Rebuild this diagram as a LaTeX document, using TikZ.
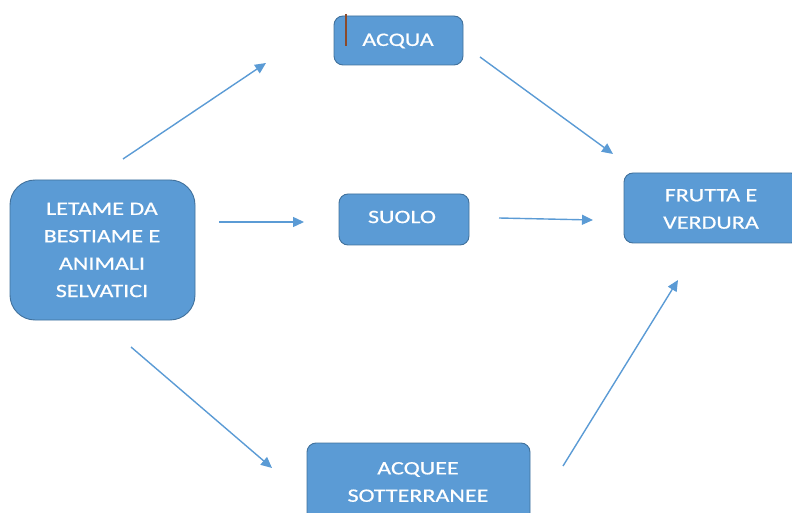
\documentclass[tikz,border=0pt]{standalone}
\usepackage{fontspec}
\newfontfamily\boxfont[FakeStretch=1.27,FakeBold=0.6]{Carlito}
\usetikzlibrary{arrows.meta}
\definecolor{boxfill}{HTML}{5B9BD5}
\definecolor{boxline}{HTML}{41719C}
\definecolor{arrowc}{HTML}{5B9BD5}
\definecolor{caret}{HTML}{8B4A2B}
\tikzset{
  bx/.style={draw=boxline, line width=0.9bp, fill=boxfill, rounded corners=#1},
  bx/.default=9bp,
  lbl/.style={text=white, font=\boxfont\fontsize{19}{27.5}\selectfont, align=center},
  arr/.style={draw=arrowc, line width=1.4bp, -{Triangle[length=11bp,width=10bp]}}
}
\begin{document}
\begin{tikzpicture}[x=1bp,y=-1bp]
\useasboundingbox (0,0) rectangle (792,513);
% boxes
\path[bx=25bp] (10,180) rectangle (195,320);
\node[lbl] (letame) at (102,250) {LETAME DA\\BESTIAME E\\ANIMALI\\SELVATICI};
\path[bx] (334,16) rectangle (463,65);
\node[lbl] (acqua) at (398,41) {ACQUA};
\draw[caret, line width=1.2bp] (346,14) -- (346,46);
\path[bx] (339,194) rectangle (469,245);
\node[lbl] (suolo) at (402,217) {SUOLO};
\path[bx] (624,173) rectangle (800,243);
\node[lbl] (frutta) at (711,209) {FRUTTA E\\VERDURA};
\path[bx] (307,443) rectangle (530,525);
\node[lbl] (acquee) at (418,482) {ACQUEE\\SOTTERRANEE};
% arrow end points
\coordinate (a1s) at (123,159); \coordinate (a1e) at (266,63);
\coordinate (a2s) at (480,57);  \coordinate (a2e) at (613,154);
\coordinate (a3s) at (219,222); \coordinate (a3e) at (304,222);
\coordinate (a4s) at (499,218); \coordinate (a4e) at (593,220);
\coordinate (a5s) at (131,347); \coordinate (a5e) at (272,468);
\coordinate (a6s) at (563,466); \coordinate (a6e) at (678,280);
\draw[arr] (a1s) -- (a1e);
\draw[arr] (a2s) -- (a2e);
\draw[arr] (a3s) -- (a3e);
\draw[arr] (a4s) -- (a4e);
\draw[arr] (a5s) -- (a5e);
\draw[arr] (a6s) -- (a6e);
\end{tikzpicture}
\end{document}
